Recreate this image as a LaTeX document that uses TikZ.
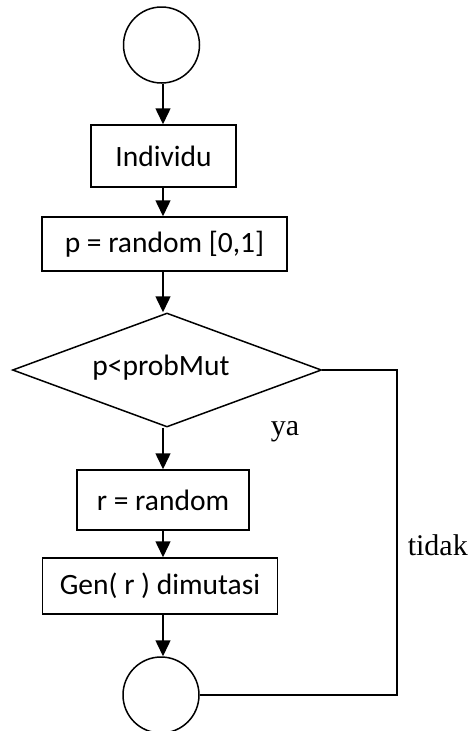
\documentclass[tikz,border=0pt]{standalone}
\usepackage{fontspec}
\setmainfont{Liberation Serif}
\newfontfamily\boxfont{Carlito}
\usetikzlibrary{arrows.meta,shapes.geometric}
\begin{document}
\begin{tikzpicture}[x=1pt,y=-1pt,line width=1.5pt,
  flow/.style={-{Triangle[width=15pt,length=16pt]}},
  procbox/.style={draw,rectangle,inner sep=0pt,
    font=\boxfont\fontsize{29.5}{34}\selectfont},
  term/.style={draw,circle,inner sep=0pt,minimum size=76pt},
  decision/.style={draw,diamond,inner sep=0pt,aspect=2.7,
    minimum width=309pt,minimum height=114pt,
    font=\boxfont\fontsize{29.5}{34}\selectfont},
  lbl/.style={inner sep=0pt,anchor=base west,font=\fontsize{30}{36}\selectfont}]
\useasboundingbox (0,0) rectangle (470,731);

% vertical axis of the main flow
\coordinate (axis) at (163,0);

% flow chart nodes
\node[term] (start) at (161.5,45) {};
\node[procbox,minimum width=145pt,minimum height=62pt] (indiv) at (163.5,156) {Individu};
\node[procbox,minimum width=245pt,minimum height=54pt] (prand) at (164.5,244) {p = random [0,1]};
\node[decision] (dec) at (167,370) {};
\node[font=\boxfont\fontsize{29.5}{34}\selectfont,inner sep=0pt] (dectext) at (161,368) {p<probMut};
\node[procbox,minimum width=172pt,minimum height=60pt] (rrand) at (163,500) {r = random};
\node[procbox,minimum width=235pt,minimum height=56pt] (gen) at (160,586) {Gen( r ) dimutasi};
\node[term] (stop) at (161,695) {};

% main flow
\draw[flow] (axis |- start.south) -- (axis |- indiv.north);
\draw[flow] (axis |- indiv.south) -- (axis |- prand.north);
\draw[flow] (axis |- prand.south) -- (axis |- dec.north);
\draw[flow] (axis |- dec.south) -- (axis |- rrand.north);
\draw[flow] (axis |- rrand.south) -- (axis |- gen.north);
\draw[flow] (axis |- gen.south) -- (axis |- stop.north);

% "no" branch back to the end node
\coordinate (corner) at (397,370);
\draw (dec.east) -- (corner) |- (stop.east);

% branch labels
\node[lbl] (ya) at (270,435) {ya};
\node[lbl] (tidak) at (407,555) {tidak};
\end{tikzpicture}
\end{document}
